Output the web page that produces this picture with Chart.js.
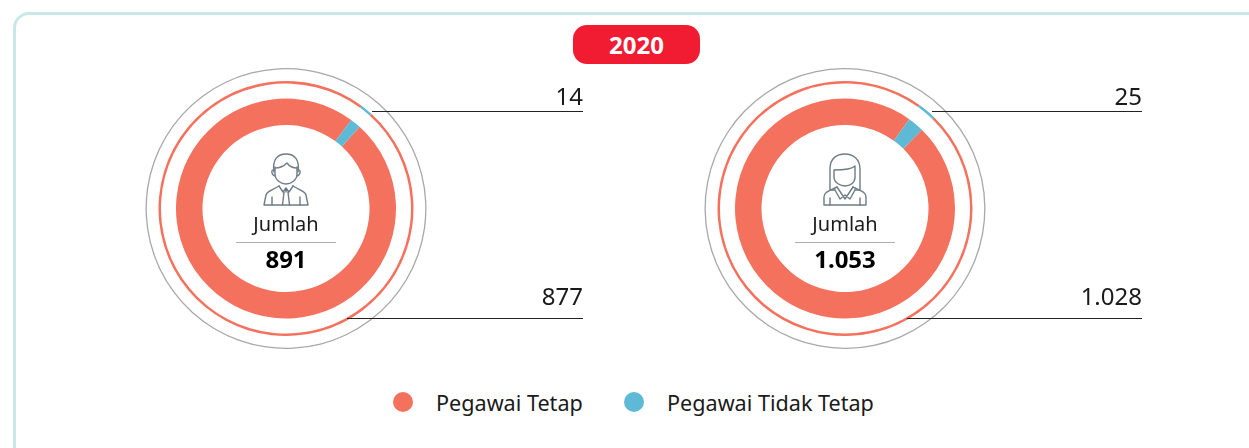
<!DOCTYPE html>
<html lang="id">
<head>
    <meta charset="UTF-8">
    <title>Jumlah Pegawai 2020</title>
    <style>
        html, body { margin: 0; padding: 0; background: #fff; overflow: hidden; }
        body { width: 1249px; height: 448px; position: relative; font-family: "Noto Sans", Arial, sans-serif; color: #1a1a1a; }
        .frame { position: absolute; left: 13px; top: 12px; width: 1260px; height: 470px; border: 3px solid #c9e8e5; border-radius: 16px; box-sizing: border-box; }
        .year { position: absolute; left: 573px; top: 25px; width: 127px; height: 39px; line-height: 40px; background: #f21c32; border-radius: 14px; color: #fff; font-weight: 700; font-size: 24px; text-align: center; }
        canvas { position: absolute; top: 64px; }
        .leader { position: absolute; height: 1px; background: #222; }
        .val { position: absolute; font-size: 24px; line-height: 30px; text-align: right; }
        .icon { position: absolute; top: 153px; fill: none; stroke: #6f7c86; stroke-width: 1.4; stroke-linejoin: round; stroke-linecap: round; }
        .center { position: absolute; width: 100px; text-align: center; }
        .center .lbl { position: absolute; top: 211px; width: 100px; font-size: 20px; line-height: 26px; }
        .center .rule { position: absolute; top: 242px; width: 100px; height: 1px; background: #aeaeae; }
        .center .tot { position: absolute; top: 243px; width: 100px; font-size: 24px; line-height: 32px; font-weight: 700; color: #000; }
        .dot { position: absolute; top: 392px; width: 20px; height: 20px; border-radius: 50%; }
        .leg { position: absolute; top: 388px; font-size: 21.6px; line-height: 30px; white-space: nowrap; }
    </style>
    <script src="https://cdn.jsdelivr.net/npm/chart.js"></script>
</head>
<body>
    <div class="frame"></div>
    <div class="year" id="year"></div>

    <canvas id="chartMale" width="290" height="289" style="left:141px;width:290px;height:289px"></canvas>
    <canvas id="chartFemale" width="290" height="289" style="left:700px;width:290px;height:289px"></canvas>

    <svg class="icon" style="left:263px" width="46" height="53" viewBox="0 0 46 53">
        <path d="M11 19C9 6 15 1 23 1C31 1 37 6 35 19"/>
        <path d="M12 15C17 15 21 13 24 10C27 14 31 15 34 15"/>
        <path d="M12 14V21C12 27 18 31 23 31C28 31 34 27 34 21V14"/>
        <path d="M11 17C8 16 8 22 12 23M35 17C38 16 38 22 34 23"/>
        <path d="M1 52L3 42C4 38 10 37 16 33M45 52L43 42C42 38 36 37 30 33M1 52H45"/>
        <path d="M16 33L20 39L23 35L26 39L30 33M21 39L19.5 52M25 39L26.5 52M23 35V39M9 44V52M37 44V52"/>
    </svg>
    <svg class="icon" style="left:823px" width="44" height="53" viewBox="0 0 44 53">
        <path d="M7 37V16C7 5 14 1 22 1C30 1 37 6 37 16V37H32M7 37H12"/>
        <path d="M11 17V24C11 30 18 33 22 33C27 33 32 30 32 24V13C28 17 18 17 11 17Z"/>
        <path d="M1 52V44C1 39 6 38 14 34M43 52V44C43 39 38 38 30 34M1 52H43"/>
        <path d="M14 34L22 46L30 34M12 37L17 46L22 42L27 46L32 37M7 45V52M37 45V52"/>
    </svg>

    <script>
        const categories = ['Pegawai Tetap', 'Pegawai Tidak Tetap'];
        const yearLabel = '2020';
        const totalLabel = 'Jumlah';
        const maleValues = [877, 14];
        const femaleValues = [1028, 25];
        const maleTotal = '891';
        const femaleTotal = '1.053';
        const maleTexts = ['877', '14'];
        const femaleTexts = ['1.028', '25'];

        const salmon = '#f4725d';
        const blue = '#5db9d5';
        const gray = '#a8a8a8';

        function makeDonut(id, values, rotation) {
            new Chart(document.getElementById(id), {
                type: 'doughnut',
                data: {
                    labels: categories,
                    datasets: [
                        // lingkaran tipis abu-abu paling luar
                        { data: [1], backgroundColor: [gray], weight: 1.3 },
                        { data: [1], backgroundColor: ['rgba(0,0,0,0)'], weight: 11.7 },
                        // cincin tipis
                        { data: values, backgroundColor: [salmon, blue], weight: 2.5 },
                        { data: [1], backgroundColor: ['rgba(0,0,0,0)'], weight: 15 },
                        // cincin utama
                        { data: values, backgroundColor: [salmon, blue], weight: 26.5 }
                    ]
                },
                options: {
                    responsive: false,
                    animation: false,
                    cutout: 83.5,
                    rotation: rotation,
                    borderWidth: 0,
                    layout: { padding: 4 },
                    plugins: { legend: { display: false }, tooltip: { enabled: false } }
                }
            });
        }

        function addEl(cls, css, text, parent) {
            const el = document.createElement('div');
            el.className = cls;
            el.style.cssText = css;
            if (text) el.textContent = text;
            (parent || document.body).appendChild(el);
            return el;
        }

        // garis penunjuk, angka dan teks tengah untuk satu donat
        function addNotes(cx, right, topStart, bottomStart, texts, total) {
            addEl('leader', `left:${topStart}px;top:111px;width:${right - topStart + 1}px`);
            addEl('leader', `left:${bottomStart}px;top:318px;width:${right - bottomStart + 1}px`);
            addEl('val', `right:${1249 - right - 1}px;top:81px`, texts[1]);
            addEl('val', `right:${1249 - right - 1}px;top:281px`, texts[0]);
            const c = addEl('center', `left:${cx - 50}px;top:0`);
            addEl('lbl', '', totalLabel, c);
            addEl('rule', '', '', c);
            addEl('tot', '', total, c);
        }

        document.getElementById('year').textContent = yearLabel;
        makeDonut('chartMale', maleValues, 42);
        makeDonut('chartFemale', femaleValues, 44.3);
        addNotes(286, 582, 372, 347, maleTexts, maleTotal);
        addNotes(845, 1141, 932, 907, femaleTexts, femaleTotal);

        addEl('dot', `left:393px;background:${salmon}`);
        addEl('leg', 'left:436px', categories[0]);
        addEl('dot', `left:624px;background:${blue}`);
        addEl('leg', 'left:667px', categories[1]);
    </script>
</body>
</html>
